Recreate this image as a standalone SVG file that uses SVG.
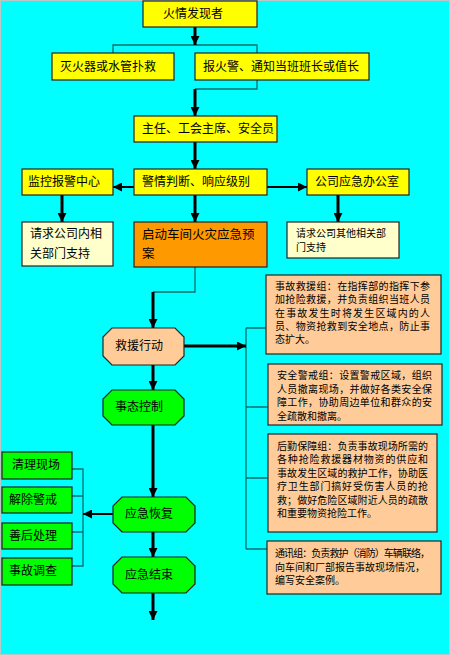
<svg xmlns="http://www.w3.org/2000/svg" width="450" height="655" viewBox="0 0 450 655">
<style>
text{font-family:"Liberation Sans","Noto Sans CJK SC",sans-serif;fill:#000;dominant-baseline:central}
.t12{font-size:12px}
.t13{font-size:12.5px}
.t10{font-size:10px}
.box{stroke:#222;stroke-width:1.2}
.y{fill:#FFFF00}
.ly{fill:#FFFFCC}
.o{fill:#FF9900}
.p{fill:#FFCC99}
.g{fill:#00FF00}
.tl{fill:none;stroke:#006f6f;stroke-width:1.3}
.ar{fill:none;stroke:#000;stroke-width:3;marker-end:url(#ah)}
.ar2{fill:none;stroke:#000;stroke-width:2;marker-end:url(#ah)}
</style>
<defs>
<marker id="ah" viewBox="0 0 10 10" refX="10" refY="5" markerWidth="9" markerHeight="9" markerUnits="userSpaceOnUse" orient="auto">
<path d="M0,0 L10,5 L0,10 z" fill="#000"/>
</marker>
</defs>
<rect x="0" y="0" width="450" height="655" fill="#00FFFF"/>
<rect x="0.5" y="0.5" width="449" height="654" fill="none" stroke="#b8c8c8" stroke-width="1"/>

<g id="connectors">
<path class="tl" d="M113,53 V45 H257 V53"/>
<path class="tl" d="M257,80 V89 H195"/>
<path class="tl" d="M195,267 V292 H153"/>
<path class="tl" d="M246,328 V549 M246,328 H266 M246,407 H268 M246,478 H268 M246,549 H267"/>
<path class="tl" d="M72,469 H83 V566 H72 M72,496 H83 M72,532 H83"/>
<path class="ar" d="M195,27 V45"/>
<path class="ar" d="M195,89 V116"/>
<path class="ar" d="M195,142 V169"/>
<path class="ar2" d="M134,187 H113"/>
<path class="ar2" d="M267,187 H307"/>
<path class="ar" d="M62,195 V222"/>
<path class="ar" d="M195,195 V222"/>
<path class="ar" d="M338,195 V222"/>
<path class="ar" d="M153,292 V328"/>
<path class="ar" d="M184,346 H246"/>
<path class="ar" d="M153,365 V390"/>
<path class="ar" d="M153,425 V497"/>
<path class="ar2" d="M113,514 H83"/>
<path class="ar" d="M153,532 V557"/>
<path class="ar" d="M153,593 V620"/>
</g>

<g id="n-finder"><rect class="box y" x="143" y="1" width="114" height="26"/><text class="t12" x="163" y="14">火情发现者</text></g>
<g id="n-extinguish"><rect class="box y" x="52" y="53" width="122" height="27"/><text class="t12" x="60" y="66.5">灭火器或水管扑救</text></g>
<g id="n-alarm"><rect class="box y" x="195" y="53" width="174" height="27"/><text class="t12" x="203" y="66.5">报火警、通知当班班长或值长</text></g>
<g id="n-director"><rect class="box y" x="134" y="116" width="143" height="26"/><text class="t12" x="142" y="129">主任、工会主席、安全员</text></g>
<g id="n-judge"><rect class="box y" x="134" y="169" width="133" height="26"/><text class="t12" x="142" y="182">警情判断、响应级别</text></g>
<g id="n-monitor"><rect class="box y" x="22" y="169" width="91" height="26"/><text class="t12" x="28" y="182">监控报警中心</text></g>
<g id="n-office"><rect class="box y" x="307" y="169" width="102" height="26"/><text class="t12" x="315" y="182">公司应急办公室</text></g>
<g id="n-inner"><rect class="box ly" x="22" y="222" width="91" height="44"/><text class="t12" x="30" y="234">请求公司内相<tspan x="30" y="254">关部门支持</tspan></text></g>
<g id="n-plan"><rect class="box o" x="134" y="222" width="133" height="45"/><text class="t13" x="142" y="235">启动车间火灾应急预<tspan x="142" y="254">案</tspan></text></g>
<g id="n-other"><rect class="box ly" x="287" y="222" width="112" height="36"/><text class="t10" x="296" y="233">请求公司其他相关部<tspan x="296" y="247">门支持</tspan></text></g>

<g id="n-rescue"><path class="box p" d="M112,328 L175,328 L184,337 L184,356 L175,365 L112,365 L103,356 L103,337 Z"/><text class="t12" x="115" y="346">救援行动</text></g>
<g id="n-control"><path class="box g" d="M112,390 L175,390 L184,399 L184,416 L175,425 L112,425 L103,416 L103,399 Z"/><text class="t12" x="115" y="407">事态控制</text></g>
<g id="n-recover"><path class="box g" d="M122,497 L186,497 L195,506 L195,523 L186,532 L122,532 L113,523 L113,506 Z"/><text class="t12" x="125" y="514">应急恢复</text></g>
<g id="n-end"><path class="box g" d="M122,557 L186,557 L195,566 L195,584 L186,593 L122,593 L113,584 L113,566 Z"/><text class="t12" x="125" y="575">应急结束</text></g>

<g id="n-clean"><rect class="box g" x="2" y="452" width="70" height="27"/><text class="t12" x="12" y="465">清理现场</text></g>
<g id="n-lift"><rect class="box g" x="2" y="487" width="70" height="26"/><text class="t12" x="9" y="500">解除警戒</text></g>
<g id="n-after"><rect class="box g" x="2" y="523" width="70" height="26"/><text class="t12" x="9" y="536">善后处理</text></g>
<g id="n-investigate"><rect class="box g" x="2" y="558" width="70" height="27"/><text class="t12" x="9" y="571">事故调查</text></g>

<g id="n-rescue-group"><rect class="box p" x="266" y="275" width="175" height="79"/>
<text class="t10"><tspan x="275" y="286" textLength="155" lengthAdjust="spacing">事故救援组：在指挥部的指挥下参</tspan><tspan x="275" y="299.3" textLength="155" lengthAdjust="spacing">加抢险救援，并负责组织当班人员</tspan><tspan x="275" y="312.6" textLength="155" lengthAdjust="spacing">在事故发生时将发生区域内的人</tspan><tspan x="275" y="325.9" textLength="155" lengthAdjust="spacing">员、物资抢救到安全地点，防止事</tspan><tspan x="275" y="339.2">态扩大。</tspan></text></g>
<g id="n-guard-group"><rect class="box p" x="268" y="364" width="174" height="61"/>
<text class="t10"><tspan x="277" y="375" textLength="155" lengthAdjust="spacing">安全警戒组：设置警戒区域，组织</tspan><tspan x="277" y="388.7" textLength="155" lengthAdjust="spacing">人员撤离现场，并做好各类安全保</tspan><tspan x="277" y="402.4" textLength="155" lengthAdjust="spacing">障工作，协助周边单位和群众的安</tspan><tspan x="277" y="416">全疏散和撤离。</tspan></text></g>
<g id="n-logistics-group"><rect class="box p" x="268" y="434" width="169" height="98"/>
<text class="t10"><tspan x="277" y="446" textLength="151" lengthAdjust="spacing">后勤保障组：负责事故现场所需的</tspan><tspan x="277" y="459.4" textLength="151" lengthAdjust="spacing">各种抢险救援器材物资的供应和</tspan><tspan x="277" y="472.8" textLength="151" lengthAdjust="spacing">事故发生区域的救护工作，协助医</tspan><tspan x="277" y="486.2" textLength="151" lengthAdjust="spacing">疗卫生部门搞好受伤害人员的抢</tspan><tspan x="277" y="499.6" textLength="151" lengthAdjust="spacing">救；做好危险区域附近人员的疏散</tspan><tspan x="277" y="513">和重要物资抢险工作。</tspan></text></g>
<g id="n-comm-group"><rect class="box p" x="267" y="541" width="174" height="53"/>
<text class="t10"><tspan x="275" y="553" textLength="155" lengthAdjust="spacing">通讯组：负责救护（消防）车辆联络，</tspan><tspan x="275" y="566.5" textLength="150" lengthAdjust="spacing">向车间和厂部报告事故现场情况，</tspan><tspan x="275" y="580">编写安全案例。</tspan></text></g>
</svg>
